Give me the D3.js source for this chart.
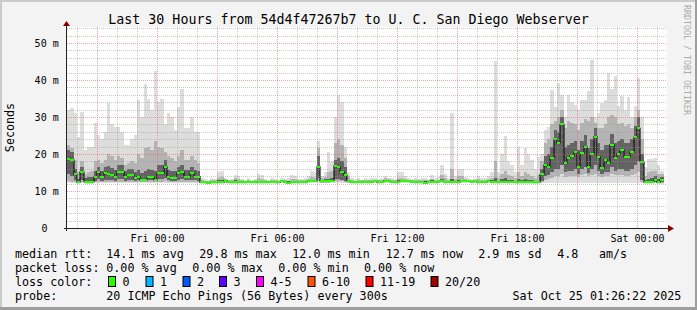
<!DOCTYPE html>
<html>
<head>
<meta charset="utf-8">
<script src="https://cdn.jsdelivr.net/npm/d3@7"></script>
<style>
body { margin: 0; background: #f3f3f3; overflow: hidden; }
svg text { font-family: "DejaVu Sans Mono", monospace; }
</style>
</head>
<body>
<svg id="chart"></svg>
<script>
// 10 minute buckets starting Thu 19:30 (UTC used as wall clock)
const median = [
  18.6, 18.4, 14.5, 12.4, 15.2, 12.5, 12.5, 12.5, 13.9, 15.2,
  13.9, 14.8, 14.6, 14.4, 13.9, 15.2, 15.2, 13.9, 14.4, 14.4,
  13.5, 13.9, 13.0, 13.0, 13.7, 13.7, 13.0, 14.8, 14.8, 16.6,
  13.9, 13.5, 13.5, 14.8, 15.2, 13.9, 13.9, 14.8, 13.9, 13.9,
  12.3, 12.3, 12.2, 12.3, 12.3, 12.4, 12.3, 12.8, 12.4, 12.4,
  12.4, 12.3, 12.4, 12.4, 12.5, 12.4, 12.4, 12.3, 12.4, 12.4,
  12.4, 12.5, 12.4, 12.3, 12.6, 12.4, 12.2, 12.4, 12.5, 12.4,
  12.3, 12.4, 12.6, 12.7, 12.7, 16.5, 12.7, 12.7, 12.6, 12.8,
  16.8, 16.5, 15.2, 14.2, 12.7, 12.5, 12.3, 12.5, 12.4, 12.5,
  12.4, 12.5, 12.6, 12.4, 12.5, 12.8, 12.7, 12.5, 12.4, 12.5,
  12.6, 12.6, 12.6, 12.5, 12.4, 12.5, 12.4, 12.2, 12.4, 12.5,
  12.4, 12.5, 12.6, 12.4, 12.5, 12.4, 12.5, 12.4, 12.6, 12.6,
  12.6, 12.5, 12.6, 12.4, 12.5, 12.4, 12.6, 12.5, 12.5, 12.4,
  12.5, 12.5, 12.4, 12.5, 12.4, 12.4, 12.4, 12.3, 12.3, 12.4,
  12.3, 12.3, 14.5, 17.0, 16.5, 19.0, 24.0, 23.0, 28.0, 17.5,
  19.0, 19.5, 20.5, 16.6, 20.2, 22.0, 16.6, 20.0, 24.7, 19.3,
  16.1, 18.5, 17.5, 22.5, 19.0, 20.0, 21.0, 19.3, 19.3, 20.5,
  24.5, 26.9, 17.9, 12.3, 12.5, 12.5, 13.0, 12.3, 13.0
];

const pingMax = [
  32.0, 32.4, 31.0, 24.5, 31.4, 21.0, 22.0, 22.0, 28.3, 25.0,
  24.0, 26.0, 33.8, 28.0, 27.4, 27.4, 26.0, 22.5, 22.5, 24.0,
  25.0, 34.6, 30.0, 39.0, 34.9, 32.0, 42.4, 34.0, 34.9, 28.0,
  31.0, 30.0, 26.5, 32.8, 37.6, 27.0, 27.0, 30.0, 26.0, 26.0,
  13.4, 13.2, 13.0, 13.6, 13.3, 15.2, 15.5, 13.4, 13.1, 13.3,
  14.3, 14.0, 13.2, 13.1, 13.4, 13.0, 13.3, 14.5, 14.2, 13.2,
  13.1, 13.4, 13.2, 13.0, 13.5, 13.2, 13.4, 14.3, 14.0, 13.2,
  13.3, 13.5, 14.0, 15.5, 15.0, 23.5, 14.0, 15.0, 20.6, 18.0,
  30.0, 36.0, 34.0, 22.0, 15.0, 13.6, 13.2, 13.4, 13.1, 13.4,
  13.3, 13.5, 13.4, 13.2, 13.6, 14.0, 13.5, 13.4, 13.2, 15.0,
  15.0, 14.0, 13.4, 13.2, 13.5, 13.2, 13.4, 13.6, 13.3, 14.2,
  13.4, 13.8, 17.0, 14.5, 13.5, 31.2, 14.0, 16.0, 16.0, 13.8,
  13.5, 13.2, 13.4, 14.0, 13.6, 13.4, 14.0, 15.0, 45.2, 15.0,
  20.0, 24.9, 18.0, 17.0, 15.0, 22.0, 17.0, 21.6, 20.0, 18.5,
  16.0, 19.2, 20.0, 26.5, 27.4, 37.3, 32.8, 39.1, 36.0, 30.0,
  35.9, 34.0, 33.3, 31.9, 34.6, 34.6, 37.0, 45.4, 30.0, 31.0,
  33.7, 34.6, 42.0, 37.5, 41.0, 33.0, 35.7, 32.0, 35.5, 30.0,
  33.0, 40.5, 30.0, 16.6, 18.6, 18.6, 19.0, 17.0, 15.5
];

const pingMin = [
  12.2, 12.1, 12.1, 12.0, 12.1, 12.0, 12.0, 12.0, 12.1, 12.1,
  12.1, 12.1, 12.1, 12.1, 12.1, 12.1, 12.1, 12.1, 12.1, 12.1,
  12.1, 12.1, 12.1, 12.1, 12.1, 12.1, 12.1, 12.1, 12.1, 12.2,
  12.1, 12.1, 12.1, 12.1, 12.1, 12.1, 12.1, 12.1, 12.1, 12.1,
  12.0, 12.0, 11.9, 12.0, 12.0, 12.0, 12.0, 12.1, 12.0, 12.0,
  12.0, 12.0, 12.0, 12.0, 12.1, 12.0, 12.0, 12.0, 12.0, 12.0,
  12.0, 12.1, 12.0, 12.0, 12.1, 12.0, 11.9, 12.0, 12.1, 12.0,
  12.0, 12.0, 12.1, 12.1, 12.1, 12.2, 12.1, 12.1, 12.1, 12.1,
  12.1, 12.1, 12.1, 12.1, 12.1, 12.0, 12.0, 12.1, 12.0, 12.1,
  12.0, 12.1, 12.1, 12.0, 12.1, 12.2, 12.1, 12.1, 12.0, 12.1,
  12.1, 12.1, 12.1, 12.1, 12.0, 12.1, 12.0, 11.9, 12.0, 12.1,
  12.0, 12.1, 12.1, 12.0, 12.1, 12.0, 12.1, 12.0, 12.1, 12.1,
  12.1, 12.1, 12.1, 12.0, 12.1, 12.0, 12.1, 12.1, 12.1, 12.0,
  12.1, 12.1, 12.0, 12.1, 12.0, 12.0, 12.0, 12.0, 12.0, 12.0,
  12.0, 12.0, 12.1, 12.1, 12.1, 12.1, 12.2, 12.2, 12.2, 12.2,
  12.2, 12.2, 12.2, 12.2, 12.2, 12.2, 12.2, 12.2, 12.2, 12.2,
  12.2, 12.2, 12.2, 12.2, 12.2, 12.2, 12.2, 12.2, 12.2, 12.2,
  12.2, 12.2, 12.1, 12.0, 12.0, 12.0, 12.1, 12.0, 12.0
];

const smokeLow = [
  12.6, 12.5, 12.4, 12.2, 12.4, 12.3, 12.3, 12.3, 12.4, 12.5,
  12.4, 12.5, 12.5, 12.5, 12.4, 12.5, 12.5, 12.4, 12.5, 12.5,
  12.4, 12.5, 12.4, 12.4, 12.5, 12.5, 12.4, 12.5, 12.5, 12.6,
  12.5, 12.4, 12.4, 12.5, 12.5, 12.4, 12.4, 12.5, 12.4, 12.4,
  12.1, 12.1, 12.0, 12.1, 12.1, 12.2, 12.1, 12.4, 12.2, 12.2,
  12.2, 12.1, 12.2, 12.2, 12.2, 12.2, 12.2, 12.1, 12.2, 12.2,
  12.2, 12.2, 12.2, 12.1, 12.3, 12.2, 12.0, 12.2, 12.2, 12.2,
  12.1, 12.2, 12.3, 12.3, 12.3, 12.6, 12.2, 12.2, 12.2, 12.3,
  12.6, 12.7, 12.6, 12.5, 12.2, 12.2, 12.1, 12.2, 12.2, 12.2,
  12.2, 12.2, 12.3, 12.2, 12.2, 12.4, 12.3, 12.2, 12.2, 12.2,
  12.3, 12.3, 12.3, 12.2, 12.2, 12.2, 12.2, 12.0, 12.2, 12.2,
  12.2, 12.2, 12.3, 12.2, 12.2, 12.2, 12.2, 12.2, 12.3, 12.3,
  12.3, 12.2, 12.3, 12.2, 12.2, 12.2, 12.3, 12.2, 12.2, 12.2,
  12.2, 12.2, 12.2, 12.2, 12.2, 12.2, 12.2, 12.1, 12.1, 12.2,
  12.1, 12.1, 12.4, 13.0, 13.2, 13.5, 14.0, 14.0, 14.5, 13.8,
  14.0, 14.0, 14.0, 13.8, 14.2, 14.5, 14.0, 14.2, 14.5, 14.0,
  13.8, 14.0, 14.0, 14.5, 14.2, 14.2, 14.2, 14.0, 14.0, 14.2,
  14.5, 15.0, 12.5, 12.1, 12.2, 12.2, 12.3, 12.1, 12.2
];

const smokeHigh = [
  22.5, 21.5, 18.5, 15.0, 18.0, 14.5, 15.0, 15.5, 18.0, 18.5,
  17.5, 18.5, 20.0, 19.5, 18.5, 19.5, 19.0, 17.0, 17.5, 18.0,
  17.5, 20.0, 19.0, 21.5, 22.0, 21.0, 23.5, 22.0, 21.5, 20.5,
  19.5, 19.0, 18.0, 19.5, 21.0, 18.5, 18.5, 19.5, 18.5, 17.5,
  12.9, 12.8, 12.7, 13.0, 12.9, 13.6, 13.8, 13.2, 12.9, 12.9,
  13.4, 13.2, 12.9, 12.8, 13.0, 12.8, 12.9, 13.4, 13.3, 12.9,
  12.8, 13.0, 12.9, 12.7, 13.1, 12.9, 12.8, 13.3, 13.2, 12.9,
  12.9, 13.0, 13.3, 13.8, 13.6, 21.5, 13.6, 13.8, 15.0, 15.5,
  23.0, 24.0, 22.5, 19.0, 14.0, 13.0, 12.8, 13.0, 12.9, 13.0,
  12.9, 13.0, 13.1, 12.9, 13.1, 13.4, 13.2, 13.0, 12.9, 13.6,
  13.6, 13.3, 13.1, 13.0, 13.0, 13.0, 12.9, 12.9, 12.9, 13.3,
  12.9, 13.1, 14.2, 13.4, 13.0, 16.0, 13.2, 14.0, 14.0, 13.2,
  13.1, 13.0, 13.1, 13.3, 13.1, 12.9, 13.3, 13.6, 18.0, 13.6,
  14.5, 15.5, 14.2, 14.0, 13.5, 15.0, 14.0, 15.0, 14.5, 14.0,
  13.5, 14.2, 18.0, 23.0, 24.0, 28.0, 29.0, 30.0, 32.0, 27.0,
  29.0, 28.5, 28.0, 26.5, 28.5, 29.5, 29.0, 30.0, 28.5, 27.0,
  27.0, 28.0, 30.0, 30.5, 30.0, 28.0, 28.5, 27.5, 28.0, 27.0,
  30.0, 32.0, 24.0, 14.0, 15.0, 15.5, 15.5, 14.5, 14.5
];

const coreLow = [
  14.5, 14.0, 13.0, 12.3, 13.0, 12.4, 12.4, 12.4, 12.8, 13.2,
  12.8, 13.0, 13.0, 13.0, 12.8, 13.3, 13.3, 12.8, 13.0, 13.0,
  12.8, 12.9, 12.6, 12.7, 12.9, 12.9, 12.7, 13.2, 13.2, 13.5,
  12.9, 12.8, 12.8, 13.1, 13.2, 12.9, 12.9, 13.1, 12.9, 12.8,
  12.2, 12.2, 12.1, 12.2, 12.2, 12.3, 12.2, 12.5, 12.3, 12.3,
  12.3, 12.2, 12.3, 12.3, 12.3, 12.3, 12.3, 12.2, 12.3, 12.3,
  12.3, 12.3, 12.3, 12.2, 12.4, 12.3, 12.1, 12.3, 12.3, 12.3,
  12.2, 12.3, 12.4, 12.4, 12.4, 13.5, 12.4, 12.4, 12.4, 12.5,
  13.2, 13.3, 13.0, 12.8, 12.4, 12.3, 12.2, 12.3, 12.3, 12.3,
  12.3, 12.3, 12.4, 12.3, 12.3, 12.5, 12.4, 12.3, 12.3, 12.3,
  12.4, 12.4, 12.4, 12.3, 12.3, 12.3, 12.3, 12.1, 12.3, 12.3,
  12.3, 12.3, 12.4, 12.3, 12.3, 12.3, 12.3, 12.3, 12.4, 12.4,
  12.4, 12.3, 12.4, 12.3, 12.3, 12.3, 12.4, 12.3, 12.3, 12.3,
  12.3, 12.3, 12.3, 12.3, 12.3, 12.3, 12.3, 12.2, 12.2, 12.3,
  12.2, 12.2, 12.8, 14.0, 14.2, 15.0, 16.0, 16.0, 17.0, 15.0,
  15.5, 15.5, 16.0, 14.5, 16.0, 16.5, 14.8, 16.0, 17.0, 15.5,
  14.5, 15.0, 15.0, 16.5, 15.5, 16.0, 16.0, 15.5, 15.5, 16.0,
  17.0, 18.0, 13.0, 12.2, 12.3, 12.3, 12.5, 12.2, 12.4
];

const coreHigh = [
  21.0, 20.5, 16.0, 13.2, 16.5, 13.5, 13.8, 13.8, 15.5, 16.5,
  15.5, 16.5, 16.8, 16.3, 15.8, 17.0, 17.0, 15.5, 16.0, 16.0,
  15.0, 15.8, 14.8, 15.5, 16.0, 15.8, 15.5, 17.0, 17.0, 18.5,
  15.8, 15.3, 15.3, 16.5, 17.0, 15.8, 15.8, 16.5, 15.8, 15.5,
  12.6, 12.6, 12.5, 12.7, 12.6, 12.9, 12.9, 13.0, 12.7, 12.7,
  12.9, 12.7, 12.7, 12.6, 12.8, 12.6, 12.7, 12.8, 12.8, 12.7,
  12.6, 12.8, 12.7, 12.5, 12.9, 12.7, 12.6, 12.8, 12.8, 12.7,
  12.6, 12.7, 12.9, 13.1, 13.0, 19.5, 13.1, 13.2, 13.3, 13.4,
  18.5, 19.0, 18.0, 16.5, 13.1, 12.8, 12.6, 12.8, 12.7, 12.8,
  12.7, 12.8, 12.9, 12.7, 12.8, 13.1, 13.0, 12.8, 12.7, 12.9,
  13.0, 12.9, 12.9, 12.8, 12.7, 12.8, 12.7, 12.6, 12.7, 12.9,
  12.7, 12.8, 13.2, 12.8, 12.8, 13.2, 12.8, 12.9, 13.0, 12.9,
  12.9, 12.8, 12.9, 12.8, 12.8, 12.7, 12.9, 13.0, 13.5, 12.8,
  13.2, 13.4, 13.0, 13.0, 12.8, 13.2, 12.9, 13.2, 13.0, 12.9,
  12.7, 12.8, 16.0, 19.5, 20.0, 22.0, 26.5, 26.0, 30.0, 22.0,
  22.5, 23.0, 23.5, 21.0, 23.5, 25.0, 21.5, 24.0, 27.0, 23.0,
  21.0, 22.5, 22.5, 25.5, 23.0, 23.5, 24.0, 23.0, 23.0, 24.0,
  27.5, 30.0, 20.0, 13.0, 13.3, 13.5, 14.0, 13.2, 13.8
];

const yTicks = [0, 10, 20, 30, 40, 50];
const medianStats = ["14.1 ms avg", "29.8 ms max", "12.0 ms min", "12.7 ms now", "2.9 ms sd", "4.8", "am/s"];
const lossStats = ["0.00 % avg", "0.00 % max", "0.00 % min", "0.00 % now"];
const lossLabels = ["0", "1", "2", "3", "4-5", "6-10", "11-19", "20/20"];
const lossColors = ["#26ff00", "#00b8ff", "#0059ff", "#5e00ff", "#ff00ff", "#ff5500", "#ff0000", "#a10000"];
const titleText = "Last 30 Hours from 54d4f47267b7 to U. C. San Diego Webserver";
const probeText = "20 ICMP Echo Pings (56 Bytes) every 300s";
const stampText = "Sat Oct 25 01:26:22 2025";

const start = Date.UTC(2025, 9, 23, 19, 30);
const end = Date.UTC(2025, 9, 25, 1, 30);
const step = 10 * 60 * 1000;

var dimensions = {
    width: 697,
    height: 310,
    margins: { top: 27, right: 30, bottom: 82, left: 67 }
};

var svg = d3.select("#chart")
    .attr("width", dimensions.width)
    .attr("height", dimensions.height);

// background + 3d border
svg.append("rect").attr("width", dimensions.width).attr("height", dimensions.height).attr("fill", "#f3f3f3");
svg.append("rect").attr("width", dimensions.width).attr("height", 2).attr("fill", "#cbcbcb");
svg.append("rect").attr("width", 2).attr("height", dimensions.height).attr("fill", "#cbcbcb");
svg.append("rect").attr("x", dimensions.width - 2).attr("width", 2).attr("height", dimensions.height).attr("fill", "#9e9e9e");
svg.append("rect").attr("y", dimensions.height - 3).attr("width", dimensions.width).attr("height", 3).attr("fill", "#9e9e9e");

var xScale = d3.scaleUtc()
    .domain([new Date(start), new Date(end)])
    .range([dimensions.margins.left, dimensions.width - dimensions.margins.right]);

var yScale = d3.scaleLinear()
    .domain([0, 54.3])
    .range([dimensions.height - dimensions.margins.bottom, dimensions.margins.top]);

const [x0, x1] = xScale.range();
const [yBottom, yTop] = yScale.range();

// plot canvas
svg.append("rect")
    .attr("x", x0).attr("y", yTop)
    .attr("width", x1 - x0).attr("height", yBottom - yTop)
    .attr("fill", "#ffffff");

const buckets = median.map((m, i) => ({
    t0: new Date(start + i * step),
    t1: new Date(start + (i + 1) * step),
    median: m,
    min: pingMin[i], max: pingMax[i],
    sLo: smokeLow[i], sHi: smokeHigh[i],
    cLo: coreLow[i], cHi: coreHigh[i]
}));

const px = t => Math.round(xScale(t));

function band(lo, hi, color) {
    svg.append("g")
        .attr("shape-rendering", "crispEdges")
        .selectAll("rect")
        .data(buckets)
        .enter()
        .append("rect")
        .attr("x", d => px(d.t0))
        .attr("width", d => px(d.t1) - px(d.t0))
        .attr("y", d => yScale(d[hi]))
        .attr("height", d => yScale(d[lo]) - yScale(d[hi]))
        .attr("fill", color);
}

// smoke
band("min", "max", "#dddddd");
band("sLo", "sHi", "#b4b4b4");
band("cLo", "cHi", "#636363");

// median: dark step line with green caps
const stepPoints = buckets.map(d => [px(d.t0), yScale(d.median)]);
stepPoints.push([px(buckets[buckets.length - 1].t1), yScale(buckets[buckets.length - 1].median)]);
svg.append("path")
    .attr("d", d3.line().curve(d3.curveStepAfter)(stepPoints))
    .attr("fill", "none")
    .attr("stroke", "#151515")
    .attr("stroke-width", 1.2);

svg.append("g")
    .attr("shape-rendering", "crispEdges")
    .selectAll("rect")
    .data(buckets)
    .enter()
    .append("rect")
    .attr("x", d => px(d.t0))
    .attr("width", d => px(d.t1) - px(d.t0))
    .attr("y", d => Math.round(yScale(d.median)) - 1)
    .attr("height", 2)
    .attr("fill", lossColors[0]);

// grid
const grid = svg.append("g").attr("shape-rendering", "crispEdges").attr("stroke-dasharray", "1,1");
const hours = d3.utcHour.every(1).range(new Date(start + 1), new Date(end));
hours.forEach(h => {
    const major = h.getUTCHours() % 3 === 0;
    const gx = Math.round(xScale(h)) + 0.5;
    grid.append("line")
        .attr("x1", gx).attr("x2", gx)
        .attr("y1", yTop).attr("y2", yBottom)
        .attr("stroke", major ? "rgba(235,90,90,0.55)" : "rgba(150,150,150,0.5)");
});
d3.range(2, 54.3, 2).forEach(v => {
    const major = v % 10 === 0;
    const gy = Math.round(yScale(v)) + 0.5;
    grid.append("line")
        .attr("x1", x0).attr("x2", x1)
        .attr("y1", gy).attr("y2", gy)
        .attr("stroke", major ? "rgba(235,90,90,0.55)" : "rgba(150,150,150,0.5)");
});

// axes lines and arrows
svg.append("line")
    .attr("x1", x0 - 3).attr("x2", x1 + 2)
    .attr("y1", yBottom + 0.5).attr("y2", yBottom + 0.5)
    .attr("stroke", "#222");
svg.append("line")
    .attr("x1", x0 - 0.5).attr("x2", x0 - 0.5)
    .attr("y1", yBottom + 3).attr("y2", yTop - 3)
    .attr("stroke", "#222");
svg.append("path")
    .attr("d", `M${x1 + 1},${yBottom - 3} L${x1 + 7},${yBottom + 0.5} L${x1 + 1},${yBottom + 4} Z`)
    .attr("fill", "#8b0000");
svg.append("path")
    .attr("d", `M${x0 - 4},${yTop - 1} L${x0 - 0.5},${yTop - 6} L${x0 + 3},${yTop - 1} Z`)
    .attr("fill", "#8b0000");

// x axis labels
svg.append("g")
    .attr("transform", `translate(0,${yBottom})`)
    .call(d3.axisBottom(xScale)
        .tickValues(d3.utcHour.every(6).range(new Date(start), new Date(end)))
        .tickFormat(d3.utcFormat("%a %H:%M"))
        .tickSize(0)
        .tickPadding(6.4))
    .call(g => g.select(".domain").remove())
    .selectAll("text")
    .attr("font-family", "DejaVu Sans Mono")
    .attr("font-size", "10px")
    .attr("fill", "#000");

// y axis labels
svg.append("g")
    .attr("transform", `translate(${x0},0)`)
    .call(d3.axisLeft(yScale)
        .tickValues(yTicks)
        .tickFormat(d => d === 0 ? "0" : d + " m")
        .tickSize(0)
        .tickPadding(8.3))
    .call(g => g.select(".domain").remove())
    .selectAll("text")
    .attr("font-family", "DejaVu Sans Mono")
    .attr("font-size", "10px")
    .attr("fill", "#000")
    .attr("x", d => d === 0 ? -19.6 : -8.3);

// y axis title
svg.append("text")
    .attr("transform", `translate(14,${(yTop + yBottom) / 2}) rotate(-90)`)
    .attr("text-anchor", "middle")
    .style("font-size", "11.7px")
    .text("Seconds");

// title
svg.append("text")
    .attr("x", dimensions.width / 2)
    .attr("y", 24)
    .attr("text-anchor", "middle")
    .style("font-size", "13.3px")
    .text(titleText);

// watermark
svg.append("text")
    .attr("transform", "translate(683.5,5) rotate(90)")
    .style("font-size", "8.3px")
    .attr("fill", "#aaaaaa")
    .text("RRDTOOL / TOBI OETIKER");

// legend
const legend = svg.append("g").style("font-size", "11.7px").attr("fill", "#000");
const rowY = [258, 272, 286, 300];
const row1X = [106.3, 199.3, 292.3, 385.7, 478.3, 557.3, 599];
const row2X = [106.3, 192.3, 278.3, 364];
const boxX = [108.5, 146, 183, 219.5, 256.5, 308, 366, 431];

legend.append("text").attr("x", 15).attr("y", rowY[0]).text("median rtt:");
medianStats.forEach((s, i) => legend.append("text").attr("x", row1X[i]).attr("y", rowY[0]).text(s));

legend.append("text").attr("x", 15).attr("y", rowY[1]).text("packet loss:");
lossStats.forEach((s, i) => legend.append("text").attr("x", row2X[i]).attr("y", rowY[1]).text(s));

legend.append("text").attr("x", 15).attr("y", rowY[2]).text("loss color:");
lossLabels.forEach((s, i) => {
    legend.append("rect")
        .attr("x", boxX[i]).attr("y", rowY[2] - 9.5)
        .attr("width", 7).attr("height", 10)
        .attr("fill", lossColors[i])
        .attr("stroke", "#000")
        .attr("stroke-width", 1);
    legend.append("text").attr("x", boxX[i] + 14).attr("y", rowY[2]).text(s);
});

legend.append("text").attr("x", 15).attr("y", rowY[3]).text("probe:");
legend.append("text").attr("x", 106.3).attr("y", rowY[3]).text(probeText);
legend.append("text").attr("x", 512.5).attr("y", rowY[3]).text(stampText);
</script>
</body>
</html>
